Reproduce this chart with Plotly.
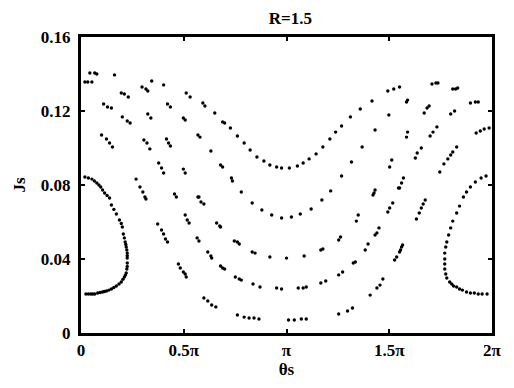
import plotly.graph_objects as go

# theta_s in units of pi, J_s values
orbit_a_x = [0.043,0.067,0.077,0.163,0.344,0.402,0.512,0.531,0.593,0.603,0.651,0.689,0.699,0.727,0.761,0.794,0.823,0.856,0.890,0.919,0.952,0.976,1.014,1.053,1.081,1.110,1.144,1.177,1.211,1.239,1.268,1.311,1.359,1.416,1.493,1.522,1.550,1.708,1.727,1.737,1.809,1.823,1.833,1.895,1.919,1.933]
orbit_a_y = [0.1405,0.1405,0.1400,0.1395,0.1362,0.1341,0.1297,0.1276,0.1243,0.1227,0.1189,0.1141,0.1135,0.1108,0.1065,0.1027,0.0989,0.0951,0.0930,0.0908,0.0897,0.0892,0.0892,0.0903,0.0919,0.0941,0.0968,0.1005,0.1049,0.1086,0.1119,0.1168,0.1211,0.1254,0.1308,0.1319,0.1330,0.1346,0.1351,0.1351,0.1319,0.1319,0.1324,0.1243,0.1249,0.1249]

orbit_b_x = [0.019,0.033,0.053,0.196,0.211,0.230,0.297,0.316,0.325,0.421,0.435,0.498,0.507,0.569,0.579,0.632,0.679,0.689,0.732,0.737,0.780,0.833,0.880,0.928,0.976,1.024,1.067,1.120,1.172,1.215,1.268,1.316,1.368,1.431,1.498,1.584,1.589,1.670,1.684,1.694,1.799,1.818]
orbit_b_y = [0.1357,0.1357,0.1357,0.1297,0.1292,0.1276,0.1330,0.1319,0.1308,0.1238,0.1222,0.1162,0.1151,0.1070,0.1059,0.0984,0.0908,0.0897,0.0838,0.0822,0.0762,0.0703,0.0665,0.0638,0.0622,0.0627,0.0643,0.0670,0.0719,0.0768,0.0849,0.0924,0.1005,0.1097,0.1178,0.1249,0.1259,0.1189,0.1216,0.1227,0.1184,0.1200]

orbit_c_x = [0.110,0.129,0.148,0.201,0.225,0.239,0.325,0.340,0.416,0.426,0.435,0.498,0.507,0.455,0.464,0.569,0.574,0.584,0.598,0.660,0.675,0.679,0.746,0.761,0.770,0.833,0.847,0.919,1.000,1.086,1.167,1.177,1.254,1.263,1.340,1.349,1.421,1.426,1.431,1.502,1.512,1.584,1.589,1.699,1.713,1.732,1.923,1.943,1.962,1.986]
orbit_c_y = [0.1238,0.1222,0.1216,0.1168,0.1146,0.1135,0.1184,0.1162,0.1049,0.1027,0.1011,0.0886,0.0865,0.0751,0.0735,0.0735,0.0735,0.0708,0.0697,0.0595,0.0578,0.0573,0.0497,0.0492,0.0481,0.0438,0.0432,0.0411,0.0405,0.0416,0.0449,0.0454,0.0503,0.0519,0.0605,0.0638,0.0746,0.0757,0.0773,0.0897,0.0935,0.1059,0.1086,0.1065,0.1086,0.1114,0.1081,0.1092,0.1103,0.1108]

orbit_d_x = [0.100,0.124,0.139,0.153,0.306,0.321,0.335,0.378,0.392,0.402,0.268,0.287,0.301,0.311,0.316,0.507,0.517,0.526,0.565,0.574,0.617,0.632,0.636,0.679,0.689,0.699,0.751,0.770,0.780,0.837,0.871,0.952,0.976,1.057,1.081,1.096,1.167,1.191,1.254,1.273,1.325,1.335,1.383,1.397,1.431,1.440,1.450,1.493,1.502,1.517,1.545,1.550,1.560,1.569,1.627,1.636,1.656,1.746,1.766,1.785,1.799,1.809,1.828]
orbit_d_y = [0.1070,0.1049,0.1027,0.1005,0.1043,0.1027,0.0995,0.0919,0.0892,0.0865,0.0832,0.0789,0.0762,0.0735,0.0724,0.0638,0.0611,0.0595,0.0514,0.0497,0.0438,0.0416,0.0405,0.0362,0.0351,0.0346,0.0303,0.0292,0.0286,0.0265,0.0249,0.0243,0.0238,0.0243,0.0243,0.0249,0.0270,0.0281,0.0314,0.0330,0.0378,0.0384,0.0449,0.0481,0.0530,0.0541,0.0568,0.0654,0.0676,0.0703,0.0784,0.0784,0.0811,0.0838,0.0946,0.0973,0.1000,0.0870,0.0914,0.0941,0.0962,0.0978,0.1005]

orbit_e_x = [0.373,0.392,0.402,0.411,0.421,0.474,0.483,0.498,0.507,0.512,0.598,0.617,0.636,0.656,0.761,0.794,0.818,0.842,0.866,1.010,1.038,1.072,1.096,1.254,1.297,1.321,1.407,1.440,1.455,1.469,1.526,1.536,1.550,1.555,1.560,1.565,1.632,1.646,1.656,1.665,1.675]
orbit_e_y = [0.0589,0.0557,0.0535,0.0508,0.0492,0.0373,0.0351,0.0330,0.0319,0.0303,0.0189,0.0173,0.0151,0.0141,0.0097,0.0086,0.0081,0.0081,0.0076,0.0070,0.0070,0.0076,0.0076,0.0103,0.0119,0.0135,0.0205,0.0243,0.0259,0.0292,0.0395,0.0411,0.0438,0.0449,0.0465,0.0476,0.0616,0.0649,0.0676,0.0697,0.0719]

island_left_x = [0.019,0.036,0.053,0.065,0.077,0.087,0.096,0.105,0.115,0.127,0.139,0.148,0.160,0.172,0.187,0.196,0.201,0.206,0.211,0.215,0.218,0.220,0.223,0.225,0.225,0.225,0.225,0.225,0.223,0.220,0.216,0.211,0.204,0.196,0.185,0.172,0.160,0.148,0.136,0.124,0.114,0.105,0.093,0.081,0.067,0.057,0.048,0.036,0.024]
island_left_y = [0.0843,0.0838,0.0832,0.0822,0.0811,0.0800,0.0789,0.0773,0.0757,0.0743,0.0730,0.0692,0.0668,0.0643,0.0611,0.0592,0.0573,0.0535,0.0514,0.0492,0.0478,0.0465,0.0449,0.0432,0.0418,0.0405,0.0378,0.0360,0.0346,0.0324,0.0313,0.0303,0.0290,0.0276,0.0265,0.0254,0.0246,0.0238,0.0232,0.0227,0.0224,0.0222,0.0219,0.0216,0.0211,0.0211,0.0211,0.0211,0.0211]

island_right_x = [1.971,1.947,1.919,1.895,1.876,1.861,1.842,1.828,1.809,1.799,1.789,1.780,1.775,1.770,1.770,1.770,1.770,1.775,1.780,1.794,1.804,1.813,1.828,1.842,1.856,1.876,1.895,1.914,1.933,1.952,1.976]
island_right_y = [0.0849,0.0838,0.0816,0.0789,0.0762,0.0735,0.0686,0.0649,0.0605,0.0568,0.0530,0.0492,0.0465,0.0432,0.0400,0.0373,0.0346,0.0319,0.0297,0.0276,0.0265,0.0254,0.0249,0.0238,0.0232,0.0222,0.0216,0.0216,0.0211,0.0211,0.0211]

x_tickvals = [0, 0.5, 1, 1.5, 2]
x_ticktext = ["0", "0.5π", "π", "1.5π", "2π"]
y_tickvals = [0, 0.04, 0.08, 0.12, 0.16]
y_ticktext = ["0", "0.04", "0.08", "0.12", "0.16"]

series = [
    (orbit_a_x, orbit_a_y), (orbit_b_x, orbit_b_y), (orbit_c_x, orbit_c_y),
    (orbit_d_x, orbit_d_y), (orbit_e_x, orbit_e_y),
    (island_left_x, island_left_y), (island_right_x, island_right_y),
]

fig = go.Figure()
for xs, ys in series:
    fig.add_trace(go.Scatter(x=xs, y=ys, mode="markers",
                             marker=dict(color="black", size=3.4, line=dict(width=0)),
                             showlegend=False, hoverinfo="skip"))

font_family = "Liberation Serif"
fs = 17
fig.update_layout(
    width=514, height=388,
    margin=dict(l=81, r=15, t=37, b=55),
    paper_bgcolor="white", plot_bgcolor="white",
    font=dict(family=font_family, size=fs, color="black", weight="bold"),
    title=dict(text="R=1.5", x=0.565, xanchor="center", y=0.953, yanchor="middle",
               font=dict(family=font_family, size=fs, weight="bold")),
)
fig.update_xaxes(range=[0, 2], tickvals=x_tickvals, ticktext=x_ticktext,
                 showgrid=False, zeroline=False, showline=True, linecolor="black", linewidth=3,
                 mirror="ticks", ticks="inside", ticklen=4, tickwidth=2, tickcolor="black",
                 title=dict(text="θs", standoff=3, font=dict(family=font_family, size=fs, weight="bold")),
                 tickfont=dict(family=font_family, size=fs, weight="bold"))
fig.update_yaxes(range=[0, 0.16], tickvals=y_tickvals, ticktext=y_ticktext,
                 showgrid=False, zeroline=False, showline=True, linecolor="black", linewidth=3,
                 mirror="ticks", ticks="inside", ticklen=4, tickwidth=2, tickcolor="black",
                 ticklabelstandoff=4,
                 title=dict(text="Js", standoff=11, font=dict(family=font_family, size=fs, weight="bold")),
                 tickfont=dict(family=font_family, size=fs, weight="bold"))

fig.write_html("out.html")
